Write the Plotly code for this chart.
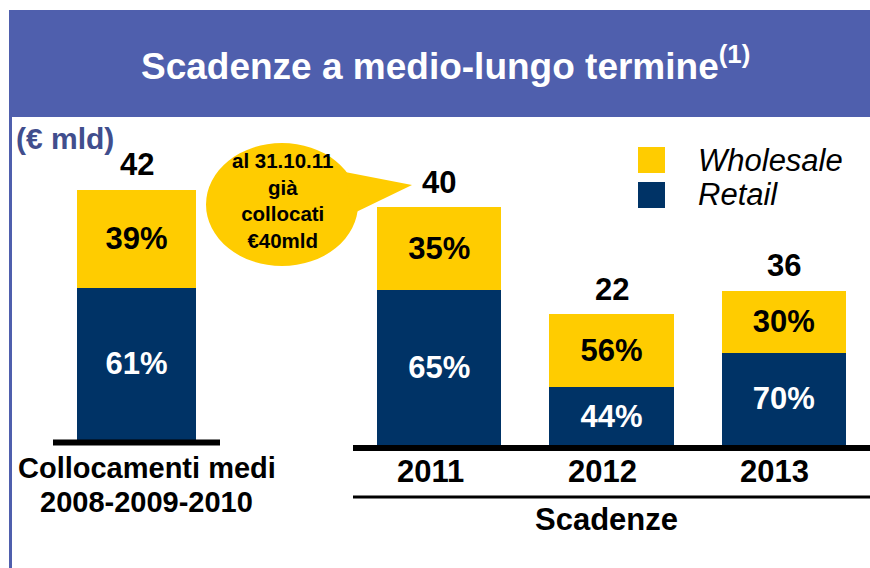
import plotly.graph_objects as go

# ---------------- data ----------------
left_categories = ["Collocamenti medi 2008-2009-2010"]
left_label_lines = ["Collocamenti medi", "2008-2009-2010"]
right_categories = ["2011", "2012", "2013"]

left_totals = [42]
right_totals = [40, 22, 36]

left_retail_pct = [61]
left_wholesale_pct = [39]
right_retail_pct = [65, 44, 70]
right_wholesale_pct = [35, 56, 30]

# bar segment heights as drawn in the picture (€ mld scale)
left_retail = [25.6]
left_wholesale = [16.4]
right_retail = [26.0, 9.7, 15.5]
right_wholesale = [14.0, 12.3, 10.4]

series_names = ["Wholesale", "Retail"]

# ---------------- style ----------------
W, H = 870, 568
NAVY = "#003366"
YELLOW = "#FFCC00"
HEADER = "#4F5FAD"
UNIT_COLOR = "#414E8D"
FONT = "Liberation Sans, Arial, sans-serif"
S = 5.95  # px per unit


def px(x):
    return x / W


def py(y):
    return 1 - y / H


fig = go.Figure()

pct_font = dict(family=FONT, size=31)

# left group
fig.add_trace(go.Bar(
    x=left_categories, y=left_retail, name=series_names[1], marker_color=NAVY,
    marker_line_width=0, width=0.707, xaxis="x", yaxis="y",
    text=[f"{p}%" for p in left_retail_pct], texttemplate="<b>%{text}</b>",
    textposition="inside", insidetextanchor="middle", textangle=0,
    textfont=dict(pct_font, color="white"), showlegend=False, hoverinfo="skip"))
fig.add_trace(go.Bar(
    x=left_categories, y=left_wholesale, name=series_names[0], marker_color=YELLOW,
    marker_line_width=0, width=0.707, xaxis="x", yaxis="y",
    text=[f"{p}%" for p in left_wholesale_pct], texttemplate="<b>%{text}</b>",
    textposition="inside", insidetextanchor="middle", textangle=0,
    textfont=dict(pct_font, color="black"), showlegend=False, hoverinfo="skip"))

# right group
fig.add_trace(go.Bar(
    x=right_categories, y=right_retail, name=series_names[1], marker_color=NAVY,
    marker_line_width=0, width=0.72, xaxis="x2", yaxis="y2",
    text=[f"{p}%" for p in right_retail_pct], texttemplate="<b>%{text}</b>",
    textposition="inside", insidetextanchor="middle", textangle=0,
    textfont=dict(pct_font, color="white"), showlegend=False, hoverinfo="skip"))
fig.add_trace(go.Bar(
    x=right_categories, y=right_wholesale, name=series_names[0], marker_color=YELLOW,
    marker_line_width=0, width=0.72, xaxis="x2", yaxis="y2",
    text=[f"{p}%" for p in right_wholesale_pct], texttemplate="<b>%{text}</b>",
    textposition="inside", insidetextanchor="middle", textangle=0,
    textfont=dict(pct_font, color="black"), showlegend=False, hoverinfo="skip"))

annotations = []
shapes = []

# totals above bars (category index positions on the category axes)
for i, (tot, r, w) in enumerate(zip(left_totals, left_retail, left_wholesale)):
    annotations.append(dict(xref="x", yref="y", x=i, y=r + w, yshift=26, xanchor="center",
                            text=f"<b>{tot}</b>", showarrow=False, yanchor="middle",
                            font=dict(family=FONT, size=31, color="black")))
for i, (tot, r, w) in enumerate(zip(right_totals, right_retail, right_wholesale)):
    annotations.append(dict(xref="x2", yref="y2", x=i, y=r + w, yshift=25, xanchor="center",
                            text=f"<b>{tot}</b>", showarrow=False, yanchor="middle",
                            font=dict(family=FONT, size=31, color="black")))

# category labels
for j, line in enumerate(left_label_lines):
    annotations.append(dict(xref="x", yref="paper", x=0, xshift=10, xanchor="center",
                            y=py(468 + 34 * j), text=f"<b>{line}</b>", showarrow=False,
                            yanchor="middle", font=dict(family=FONT, size=29, color="black")))
for i, cat in enumerate(right_categories):
    annotations.append(dict(xref="x2", yref="paper", x=i, xshift=-9, y=py(471), xanchor="center",
                            text=f"<b>{cat}</b>", showarrow=False, yanchor="middle",
                            font=dict(family=FONT, size=31, color="black")))
annotations.append(dict(xref="paper", yref="paper", x=px(606), y=py(519), xanchor="center",
                        text="<b>Scadenze</b>", showarrow=False, yanchor="middle",
                        font=dict(family=FONT, size=31, color="black")))

# baselines
shapes.append(dict(type="line", xref="x domain", yref="y", x0=0, x1=1, y0=-0.42, y1=-0.42,
                   line=dict(color="black", width=6), layer="above"))
shapes.append(dict(type="line", xref="x2 domain", yref="y2", x0=0, x1=1, y0=-0.5, y1=-0.5,
                   line=dict(color="black", width=6), layer="above"))
shapes.append(dict(type="line", xref="x2 domain", yref="paper", x0=0, x1=1, y0=py(497), y1=py(497),
                   line=dict(color="black", width=3)))

# header band and left border
shapes.append(dict(type="rect", xref="paper", yref="paper", x0=px(9), x1=1, y0=py(117), y1=py(10),
                   fillcolor=HEADER, line_width=0, layer="below"))
shapes.append(dict(type="line", xref="paper", yref="paper", x0=px(10.5), x1=px(10.5), y0=py(117), y1=0,
                   line=dict(color=HEADER, width=3)))
annotations.append(dict(xref="paper", yref="paper", x=px(445), y=py(63), xanchor="center",
                        text="<b>Scadenze a medio-lungo termine<sup>(1)</sup></b>", showarrow=False,
                        yanchor="middle", font=dict(family=FONT, size=37, color="white")))

# unit label
annotations.append(dict(xref="paper", yref="paper", x=px(14), y=py(138), xanchor="left",
                        text="<b>(€ mld)</b>", showarrow=False, yanchor="middle",
                        font=dict(family=FONT, size=30, color=UNIT_COLOR)))

# callout bubble
shapes.append(dict(type="circle", xref="paper", yref="paper", x0=px(206), x1=px(358),
                   y0=py(266), y1=py(143), fillcolor=YELLOW, line_width=0))
shapes.append(dict(type="path", xref="paper", yref="paper",
                   path=f"M {px(345)} {py(172)} L {px(412)} {py(185)} L {px(352)} {py(214)} Z",
                   fillcolor=YELLOW, line_width=0))
annotations.append(dict(xref="paper", yref="paper", x=px(282), y=py(200), xanchor="center",
                        text="<b>al 31.10.11<br>già<br>collocati<br>€40mld</b>", showarrow=False,
                        yanchor="middle", align="center",
                        font=dict(family=FONT, size=20.5, color="black")))

# legend
legend_colors = [YELLOW, NAVY]
legend_rows = [160, 195]
for name, col, yc in zip(series_names, legend_colors, legend_rows):
    shapes.append(dict(type="rect", xref="paper", yref="paper", x0=px(638), x1=px(665),
                       y0=py(yc + 13), y1=py(yc - 13), fillcolor=col, line_width=0))
    annotations.append(dict(xref="paper", yref="paper", x=px(696), y=py(yc), xanchor="left",
                            yanchor="middle", text=f"<i>{name}</i>", showarrow=False,
                            font=dict(family=FONT, size=31, color="black")))

fig.update_layout(
    width=W, height=H, margin=dict(l=0, r=0, t=0, b=0),
    paper_bgcolor="white", plot_bgcolor="rgba(0,0,0,0)",
    barmode="stack", showlegend=False,
    xaxis=dict(domain=[px(53), px(220)], anchor="y", type="category", range=[-0.5, 0.5],
               visible=False, fixedrange=True),
    yaxis=dict(domain=[0, 1], anchor="x", range=[-(H - 440) / S, 440 / S], visible=False, fixedrange=True),
    xaxis2=dict(domain=[px(353), 1], anchor="y2", type="category", range=[-0.5, 2.5],
                visible=False, fixedrange=True),
    yaxis2=dict(domain=[0, 1], anchor="x2", range=[-(H - 445) / S, 445 / S], visible=False, fixedrange=True),
    annotations=annotations, shapes=shapes,
)

fig.write_html("out.html", config={"displayModeBar": False, "staticPlot": True},
               post_script="document.body.style.margin='0';document.body.style.overflow='hidden';")
